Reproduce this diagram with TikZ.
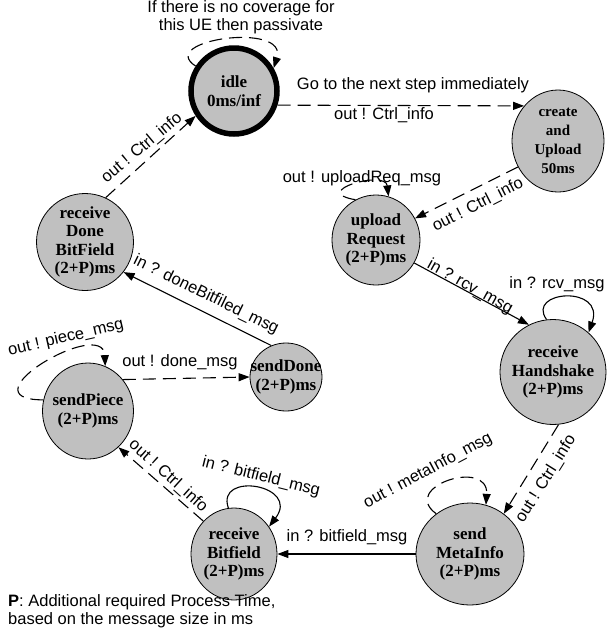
\documentclass[tikz,border=0pt]{standalone}
\usepackage{fontspec}
\setmainfont{Liberation Serif}
\setsansfont{Liberation Sans}
\usetikzlibrary{arrows.meta,shapes.geometric}
\definecolor{stategray}{RGB}{192,192,192}

\begin{document}
\begin{tikzpicture}[x=1pt,y=-1pt,
    state/.style={ellipse,draw,fill=stategray,line width=0.8pt,inner sep=-14pt,align=center,
      font=\bfseries\fontsize{17}{18.5}\selectfont},
    lbl/.style={font=\sffamily\fontsize{16.5}{18}\selectfont,inner sep=0pt},
    msg/.style={-{Triangle[length=11pt,width=8pt]},line width=1.1pt},
    ctrl/.style={msg,dash pattern=on 13pt off 7pt}]

        % Fix the page size
        \useasboundingbox (0,0) rectangle (608,638);

        % Draw the states
        \node[state,minimum width=86pt,minimum height=86pt,line width=5.5pt] (idle) at (234,91) {idle\\0ms/inf};
        \node[state,minimum width=92pt,minimum height=102pt,font=\bfseries\fontsize{15}{19}\selectfont] (create) at (558,141) {create\\and\\Upload\\50ms};
        \node[state,minimum width=88pt,minimum height=90pt] (upload) at (376,240) {upload\\Request\\(2+P)ms};
        \node[state,minimum width=106pt,minimum height=105pt] (handshake) at (553,372) {receive\\Handshake\\(2+P)ms};
        \node[state,minimum width=108pt,minimum height=102pt] (meta) at (470,554) {send\\MetaInfo\\(2+P)ms};
        \node[state,minimum width=86pt,minimum height=92pt] (bitfield) at (234,554) {receive\\Bitfield\\(2+P)ms};
        \node[state,minimum width=91pt,minimum height=96pt] (piece) at (88,411) {sendPiece\\(2+P)ms};
        \node[state,minimum width=72pt,minimum height=68pt] (done) at (286,377) {sendDone\\(2+P)ms};
        \node[state,minimum width=97pt,minimum height=97pt] (rdone) at (85,242) {receive\\Done\\BitField\\(2+P)ms};

        % Draw the transitions
        \draw[ctrl] (idle.147) .. controls +(-40,-26) and +(15,-47) .. (idle.30);
        \draw[ctrl] (idle.-18) -- (create.134);
        \draw[ctrl] (create.213) -- (upload.29);
        \draw[ctrl] (upload.117) .. controls +(-47,-8) and +(-3,-27) .. (upload.74);
        \draw[msg] (upload.-31) -- (handshake.117);
        \draw[msg] (handshake.97) .. controls +(-21,-29) and +(17,-48) .. (handshake.48);
        \draw[ctrl] (handshake.-84) -- (meta.50);
        \draw[ctrl] (meta.130) .. controls +(-37,-27) and +(3,-47) .. (meta.72);
        \draw[msg] (meta.west) -- (bitfield.east);
        \draw[msg] (bitfield.97) .. controls +(-13,-37) and +(32,-42) .. (bitfield.38);
        \draw[ctrl] (bitfield.133) -- (piece.-50);
        \draw[ctrl] (piece.166) .. controls +(-82,0) and +(-2,-50) .. (piece.69);
        \draw[ctrl] (piece.42) -- (done.west);
        \draw[msg] (done.115) -- (rdone.-38);
        \draw[ctrl] (rdone.65) -- (idle.-147);

        % Label the transitions
        \node[lbl,align=center] (cover) at (241,17) {If there is no coverage for\\this UE then passivate};
        \node[lbl] (next) at (413,85) {Go to the next step immediately};
        \node[lbl] (ctrlA) at (384,115) {out ! Ctrl\_info};
        \node[lbl,rotate=27] (ctrlB) at (478,205) {out ! Ctrl\_info};
        \node[lbl] (upreq) at (362,178) {out ! uploadReq\_msg};
        \node[lbl,rotate=-29] (rcvA) at (470,287) {in ? rcv\_msg};
        \node[lbl] (rcvB) at (557,284) {in ? rcv\_msg};
        \node[lbl,rotate=58] (ctrlC) at (546,479) {out ! Ctrl\_info};
        \node[lbl,rotate=28] (metamsg) at (428,471) {out ! metaInfo\_msg};
        \node[lbl] (bitA) at (347,537) {in ? bitfield\_msg};
        \node[lbl,rotate=-14] (bitB) at (261,477) {in ? bitfield\_msg};
        \node[lbl,rotate=-42] (ctrlD) at (168,476) {out ! Ctrl\_info};
        \node[lbl,rotate=13] (piecemsg) at (66,338) {out ! piece\_msg};
        \node[lbl] (donemsg) at (180,362) {out ! done\_msg};
        \node[lbl,rotate=-26] (dbf) at (206,295) {in ? doneBitfiled\_msg};
        \node[lbl,rotate=40] (ctrlE) at (142,148) {out ! Ctrl\_info};

        % Legend
        \node[lbl,anchor=west,align=left] (legend) at (8,611) {\textbf{P}: Additional required Process Time,\\based on the message size in ms};
\end{tikzpicture}
\end{document}
